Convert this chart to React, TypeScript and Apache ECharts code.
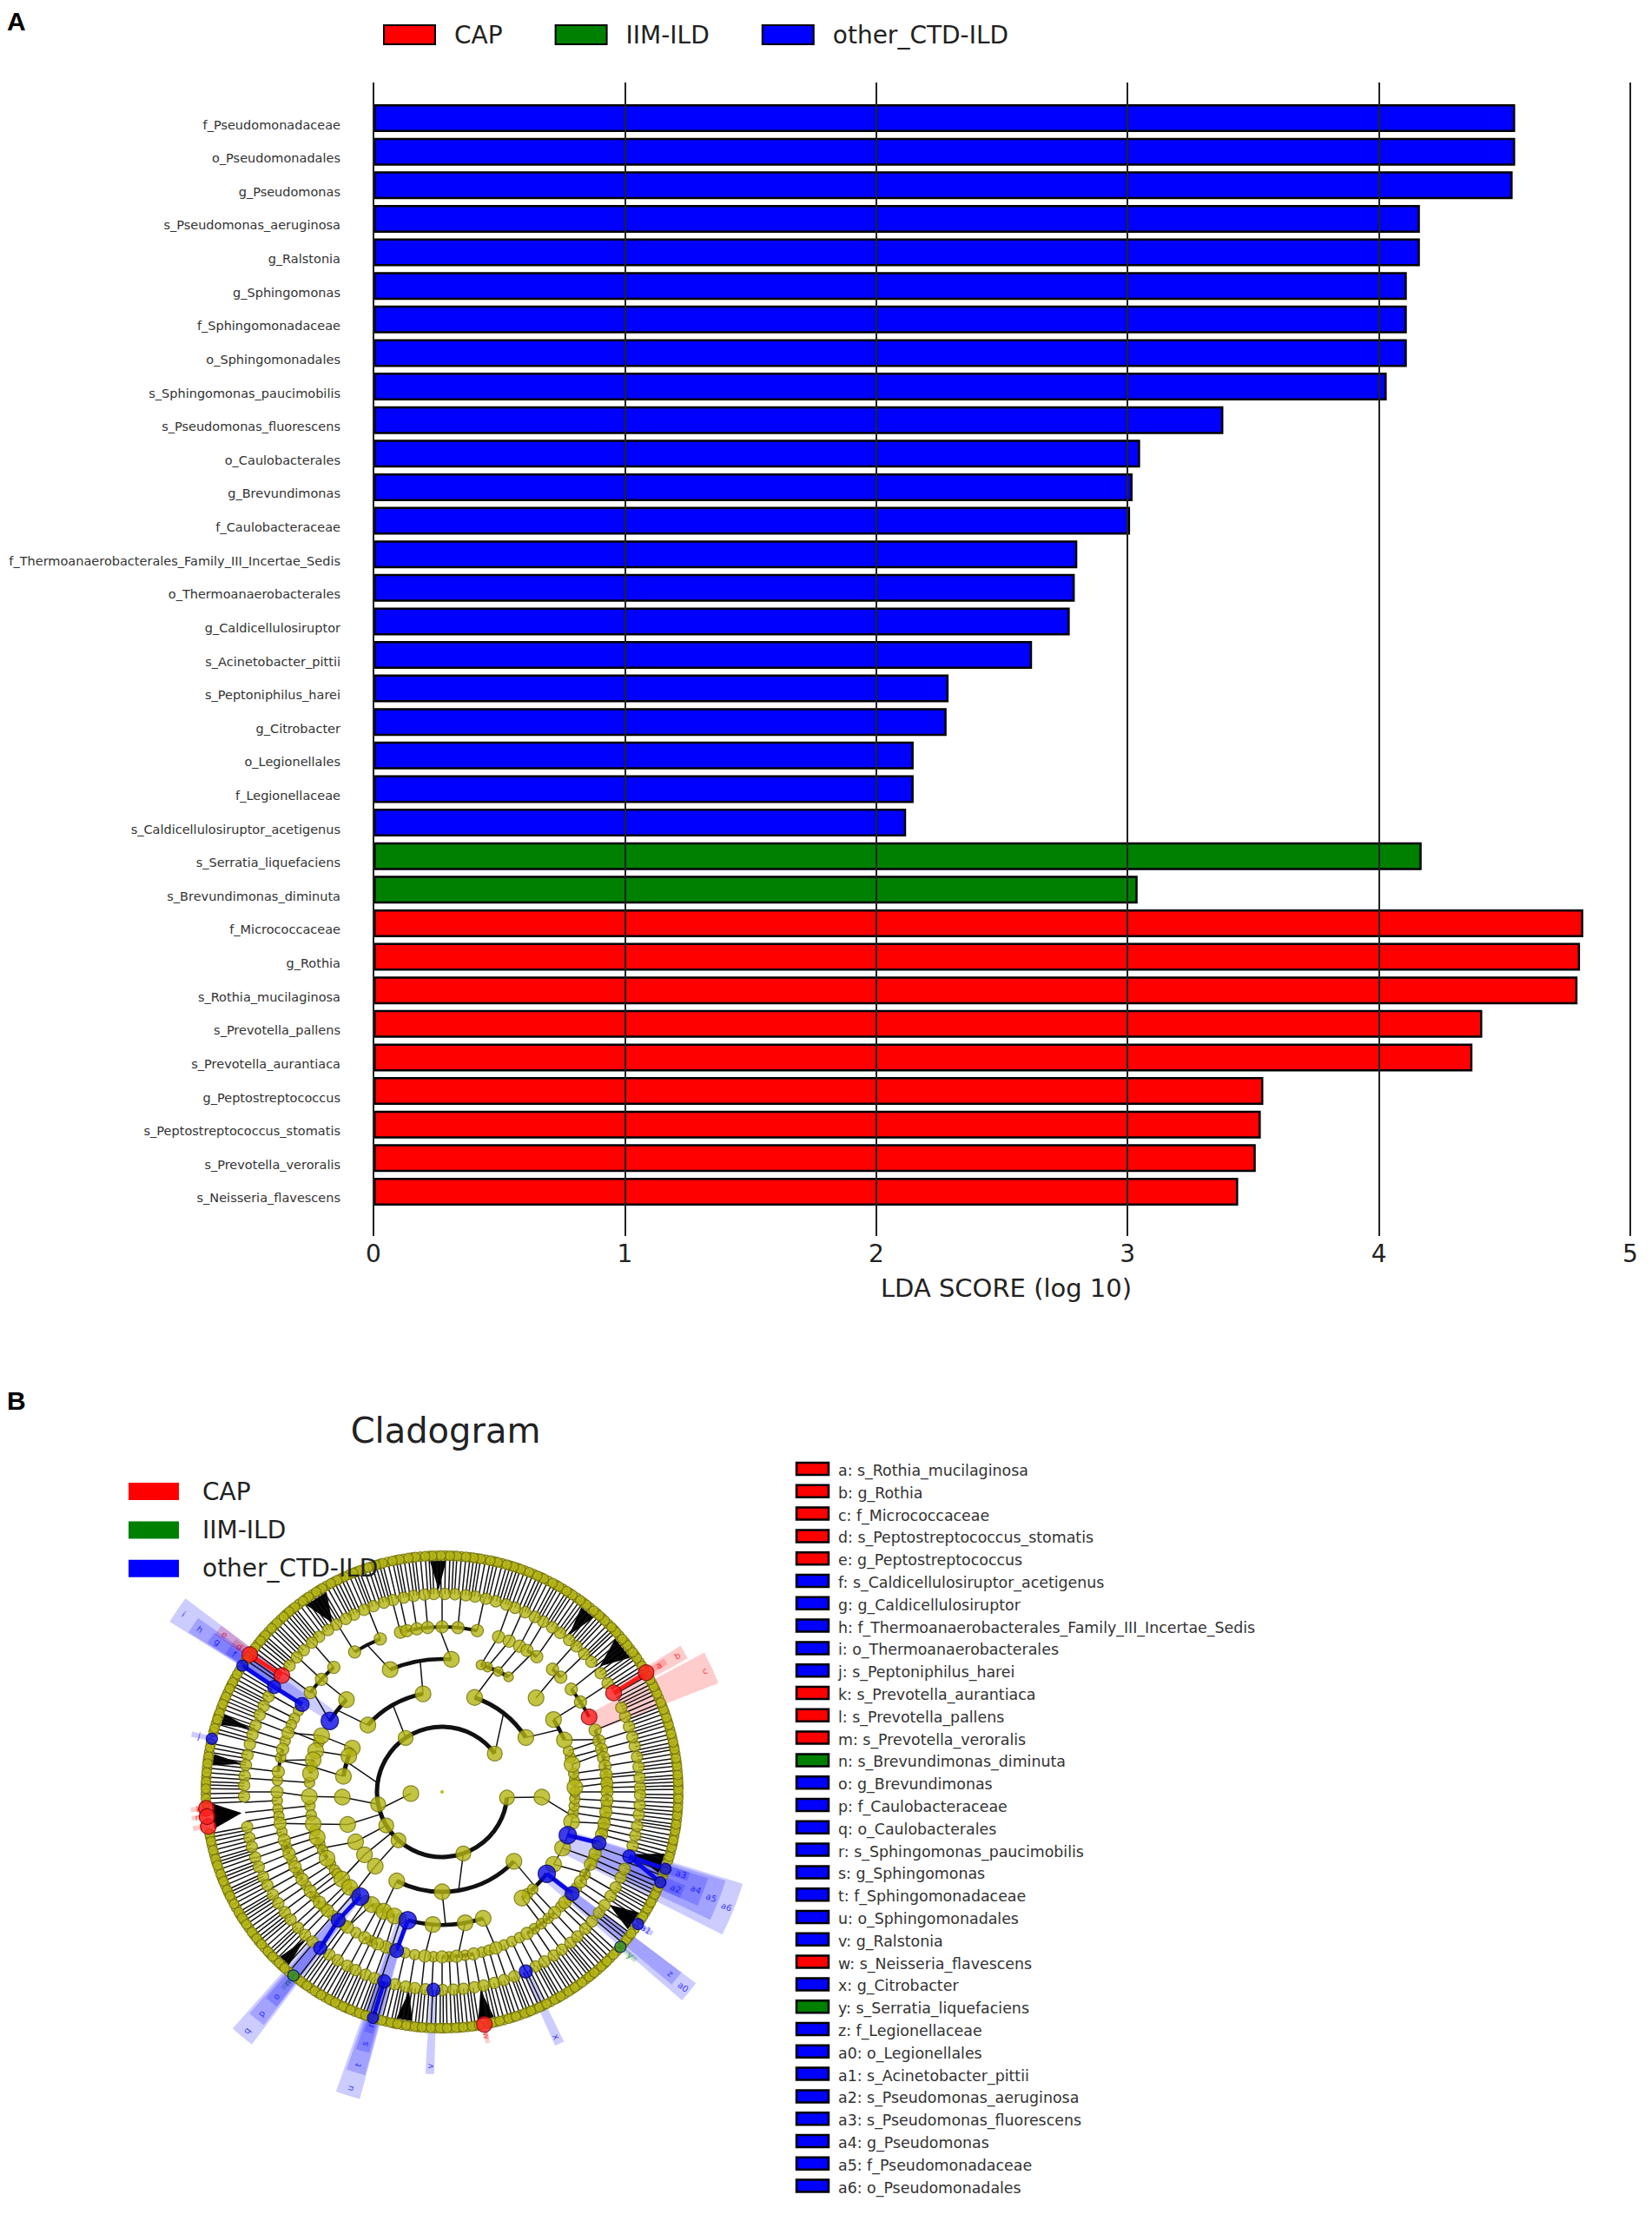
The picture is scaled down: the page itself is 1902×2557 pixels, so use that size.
import React, { useEffect, useRef } from "react";
import * as echarts from "echarts";

// ---------- LDA bar chart ----------
const taxa = [
  "f_Pseudomonadaceae","o_Pseudomonadales","g_Pseudomonas","s_Pseudomonas_aeruginosa","g_Ralstonia","g_Sphingomonas","f_Sphingomonadaceae","o_Sphingomonadales","s_Sphingomonas_paucimobilis","s_Pseudomonas_fluorescens","o_Caulobacterales","g_Brevundimonas","f_Caulobacteraceae","f_Thermoanaerobacterales_Family_III_Incertae_Sedis","o_Thermoanaerobacterales","g_Caldicellulosiruptor","s_Acinetobacter_pittii","s_Peptoniphilus_harei","g_Citrobacter","o_Legionellales","f_Legionellaceae","s_Caldicellulosiruptor_acetigenus","s_Serratia_liquefaciens","s_Brevundimonas_diminuta","f_Micrococcaceae","g_Rothia","s_Rothia_mucilaginosa","s_Prevotella_pallens","s_Prevotella_aurantiaca","g_Peptostreptococcus","s_Peptostreptococcus_stomatis","s_Prevotella_veroralis","s_Neisseria_flavescens",
];
const ldaScores = [4.542,4.542,4.532,4.163,4.163,4.111,4.111,4.111,4.031,3.381,3.05,3.02,3.01,2.8,2.79,2.77,2.62,2.288,2.28,2.149,2.149,2.119,4.17,3.04,4.813,4.8,4.79,4.411,4.372,3.54,3.53,3.51,3.44];
const taxonClass = [2,2,2,2,2,2,2,2,2,2,2,2,2,2,2,2,2,2,2,2,2,2,1,1,0,0,0,0,0,0,0,0,0];
const classNames = ["CAP", "IIM-ILD", "other_CTD-ILD"];
const scoreTicks = [0, 5];

// ---------- cladogram: node angles (degrees, counter-clockwise from east) per level ----------
const kingdomAngles = [183];
const phylumAngles = [36, 124, 191, 211, 228, 289, 355];
const classAngles = [33, 71, 101, 138, 154, 159, 171, 183, 199, 210, 219, 228, 243, 270, 316, 357];
const orderAngles = [2, 12, 23, 33, 45, 86, 113, 136, 155, 162, 166, 172, 182, 194, 200, 210, 221, 226, 238, 244, 249, 266, 280, 288, 307, 327, 335, 347];
const minorOrderAngles = [60, 65, 70, 73];
const chainOrderAngles = [186,190,197,203,206,213,216,218,224,229,235,241,246,252,351,354,357,0,5,8,15,18,158,169,176,310,313];
const familyAngles = [38.5,33,22,18,15,12,9,6,3,0,357,353,349,345,338,334,327,318,313,301,289,281,275,270,264,250,247,242,235,226,222,217,212,207,202,197,191,180,173,165,159,143,137,131,122,112,104.6,102.3,98.8,95,90,84.5,77.7,70,66,62,59,55,48,44];
const extraFamilyAngles = [150.5,153.5,156,162,168,176,183,186,188.5,194,199.5,204.5,209.5,214.5,219.5,224,228.5,233.5,238.5,244.5,252,257,260.5,267,272.5,278,284,286.5,292,295,298,304,307,310,316,320,324.5,330,336,340.5,347,351,355,1.5,5];
const genusAngles = [1.2,4.1,7.3,10.2,13.4,16.1,19.3,22.4,25.2,33.3,36.8,41.1,44.2,47.3,50.1,53.4,56.2,59.3,62.1,65.2,68.4,71.1,74.3,77.2,80.4,83.1,86.3,89.2,92.4,95.1,98.3,101.2,104.4,107.1,110.3,113.2,116.4,119.1,122.3,125.2,128.4,131.1,134.3,137.2,140.4,151.2,154.3,157.1,160.4,163.2,166.1,169.3,172.2,175.4,178.1,181.3,190.2,193.4,196.1,199.3,202.2,205.4,208.1,211.3,214.2,217.4,220.1,223.3,226.2,229.1,235.3,238.2,241.4,244.1,247.3,250.1,256.2,259.4,262.1,265.2,270.1,273.3,276.2,279.4,282.1,285.3,288.2,291.4,298.2,301.1,304.3,307.2,310.4,313.1,316.3,319.2,322.4,325.1,328.3,331.2,334.4,337.1,344.2,347.3,350.1,353.4,356.2,359.1];
const speciesAngles = [0.6,2.4,4.1,6.3,8.2,10.4,12.1,14.2,16.5,18.3,20.4,22.2,24.6,26.4,28.3,32.2,34.5,36.2,38.4,40.3,42.6,44.2,46.5,48.3,50.1,52.4,54.2,56.5,58.2,60.4,62.1,64.5,66.2,68.4,70.6,72.3,74.1,76.4,78.2,80.6,82.3,84.2,86.4,88.1,90.3,92.4,94.1,96.5,98.2,100.4,102.1,104.6,106.3,108.2,110.5,112.1,114.4,116.3,118.1,120.5,122.2,124.4,126.1,128.6,130.3,132.1,134.4,136.2,138.5,140.2,142.3,146.1,150.2,152.4,154.1,156.3,158.2,160.5,162.1,164.4,169.2,171.4,173.1,175.3,177.5,179.2,181.6,190.2,192.1,194.3,196.5,198.1,200.4,202.2,204.5,206.1,208.3,210.6,212.2,214.1,216.4,218.3,220.1,222.5,224.2,226.4,228.2,233.3,235.1,237.4,239.2,241.5,243.1,245.3,247.2,249.5,251.1,255.2,257.5,259.1,261.3,263.4,265.1,267.3,269.5,271.2,273.4,275.1,277.3,279,282.3,284.1,286.4,288.2,290.5,292.1,294.3,296.2,298.5,300.1,302.4,304.2,306.3,308.5,310.1,312.4,314.2,316.5,321.3,323.1,328.2,330.4,332.1,334.3,336.2,340.3,344.1,346.4,348.2,350.5,352.1,354.3,356.2,358.4];
const extraSpeciesAngles = [1.5,3.3,5.2,7.2,9.3,11.2,13.2,15.3,17.4,19.4,21.3,23.4,25.5,27.3,29.5,31.3,33.3,35.3,37.3,39.3,41.4,43.4,45.3,47.4,49.2,51.3,53.3,55.3,57.4,59.3,61.2,63.3,65.3,67.3,69.5,71.4,73.2,75.2,77.3,79.4,81.4,83.2,85.3,87.2,89.2,91.3,93.2,95.3,97.3,99.3,101.2,103.3,105.4,107.2,109.3,111.3,113.2,115.3,117.2,119.3,121.3,123.3,125.2,127.3,129.4,131.2,133.2,135.3,137.3,139.3,141.2,143.3,145.2,149.1,151.3,153.2,155.2,157.2,159.3,161.3,163.2,165.3,168.1,170.3,172.2,174.2,176.4,178.3,180.4,182.8,191.1,193.2,195.4,197.3,199.2,201.3,203.3,205.3,207.2,209.4,211.4,213.1,215.2,217.3,219.2,221.3,223.3,225.3,227.3,229.6,232.2,234.2,236.2,238.3,240.3,242.3,244.2,246.2,248.3,250.3,252.1,254.1,256.3,258.3,260.2,262.3,264.2,266.2,268.4,270.3,272.3,274.2,276.2,278.1,281.3,283.2,285.2,287.3,289.3,291.3,293.2,295.2,297.3,299.3,301.2,303.3,305.2,307.4,309.3,311.2,313.3,315.3,317.6,320.1,322.2,324.5,327.3,329.3,331.2,333.2,335.2,337.4,339.2,341.3,343.1,345.2,347.3,349.3,351.3,353.2,355.2,357.3,359.3];

// clade links: [parent angle, first child angle, last child angle]
const kingdomLinks = [[183, 36, 355]];
const phylumLinks = [[36,33,71],[124,101,138],[172,154,171],[191,183,183],[200,199,199],[211,210,210],[219,219,219],[228,228,228],[289,243,316],[355,357,357]];
const classLinks = [[33,23,33],[71,60,73],[101,86,113],[138,136,148],[154,155,155],[159,162,162],[171,166,172],[183,182,182],[199,194,194],[210,200,210],[219,221,221],[228,226,232],[243,238,249],[270,255,288],[316,307,322]];
const thinClassLinks = [[357,327,12]];
const orderLinks = [[23,15,22],[33,27,38.5],[45,44,48],[60,55,59],[65,62,62],[70,66,66],[73,70,70],[86,77.7,104.6],[113,112,122],[136,131,143],[155,159,159],[166,165,173],[182,180,180],[194,191,191],[200,197,202],[210,207,212],[221,217,222],[226,226,226],[238,235,235],[244,242,247],[249,250,250],[266,264,264],[280,270,281],[288,289,289],[307,301,313],[327,327,334],[335,334,338],[347,345,353],[2,357,9],[12,9,18]];
// dense fans between genus and species rings: [angle, half width]
const fans = [[123,3],[91,2],[38.5,3],[51,2],[186,3.2],[326,2.5],[342,2.5],[260.6,2],[281,2],[227,1.5],[172,1.4],[161.7,1.4]];

// biomarkers: letter, level, angle, class, shade start, shade end, shade outer radius
const markerLetters = ["a","b","c","d","e","f","g","h","i","j","k","l","m","n","o","p","q","r","s","t","u","v","w","x","y","z","a0","a1","a2","a3","a4","a5","a6"];
const markerLevels = [5,4,3,5,4,5,4,3,2,5,5,5,5,5,4,3,2,5,4,3,2,4,5,4,5,3,2,5,5,5,4,3,2];
const markerAngles = [30.3,30,27,144.5,144,147.7,148,148,147.7,167,184,188.4,186,231,232,231,232,253,253,254,255,267.5,280.3,295,319,322,322,326,337.5,341,341,342,341];
const markerClass = [0,0,0,0,0,2,2,2,2,2,0,0,0,1,2,2,2,2,2,2,2,2,0,2,1,2,2,2,2,2,2,2,2];
const shadeStart = [29.5,28.5,21.5,143.5,143,145.5,145,144.5,143,166.4,183.5,187.8,185.5,230.4,229.5,229,228.5,252,251.5,251,250.5,266.6,279.8,294,318.4,320,319,325.4,336,340,336,334.5,333];
const shadeEnd = [31,31.5,28,145.3,145.3,147.5,147.6,147.8,148,167.6,184.6,189,186.5,231.6,232.4,232.6,233,254,254.4,254.8,255,268.4,280.8,296,319.6,323,323,326.6,339,342,342,342.6,343];
const shadeOuter = [298,322,342,296,318,296,320,345,370,296,290,290,290,292,312,338,364,290,312,338,366,325,294,320,296,345,366,292,300,300,322,342,362];
const markerChains = [["b","a"],["e","d"],["h","g"],["g","f"],["q","p"],["p","o"],["u","t"],["s","r"],["a0","z"],["a6","a5"],["a4","a2"],["a4","a3"]];
const markerRootLinks = [[147.7,136,148],[255,254,254],[232,231.5,231.5],[322,322,322],[341,342,342]];

// side list of the cladogram
const listLetters = markerLetters;
const listTaxa = ["s_Rothia_mucilaginosa","g_Rothia","f_Micrococcaceae","s_Peptostreptococcus_stomatis","g_Peptostreptococcus","s_Caldicellulosiruptor_acetigenus","g_Caldicellulosiruptor","f_Thermoanaerobacterales_Family_III_Incertae_Sedis","o_Thermoanaerobacterales","s_Peptoniphilus_harei","s_Prevotella_aurantiaca","s_Prevotella_pallens","s_Prevotella_veroralis","s_Brevundimonas_diminuta","g_Brevundimonas","f_Caulobacteraceae","o_Caulobacterales","s_Sphingomonas_paucimobilis","g_Sphingomonas","f_Sphingomonadaceae","o_Sphingomonadales","g_Ralstonia","s_Neisseria_flavescens","g_Citrobacter","s_Serratia_liquefaciens","f_Legionellaceae","o_Legionellales","s_Acinetobacter_pittii","s_Pseudomonas_aeruginosa","s_Pseudomonas_fluorescens","g_Pseudomonas","f_Pseudomonadaceae","o_Pseudomonadales"];
const listClass = [0,0,0,0,0,2,2,2,2,2,0,0,0,1,2,2,2,2,2,2,2,2,0,2,1,2,2,2,2,2,2,2,2];

// ---------- styling ----------
const FONT = "DejaVu Sans";
const COLORS = ["#ff0000", "#008000", "#0000ff"];
const NODE_COLORS = ["#ff1a1a", "#2e8b1e", "#0a0ae6"];
const SHADE = ["rgba(255,0,0,0.2)", "rgba(0,128,0,0.2)", "rgba(0,0,255,0.2)"];
const LEVEL_R = [36, 75, 115, 153, 190, 228, 272];
const LEVEL_SIZE = [18, 17, 18, 18, 14, 13, 11];
const LEVEL_ARC = [5, 5, 4.5, 4, 2.5, 1.5];
const INK = "#111111";
const CENTER = [509, 2063];
const RAD = Math.PI / 180;

function linkRows(links: number[][], level: number, arcWidth: number) {
  return links.map(([p, s, e]) => [LEVEL_R[level], p, LEVEL_R[level + 1], s, e, arcWidth, -1]);
}

function buildOption() {
  const byClass = classNames.map((_, c) => ldaScores.map((v, i) => (taxonClass[i] === c ? v : null)));

  const barSeries = classNames.map((name, c) => ({
    name,
    type: "bar",
    stack: "lda",
    xAxisIndex: 0,
    yAxisIndex: 0,
    barWidth: 32,
    itemStyle: { color: COLORS[c], borderColor: "#000", borderWidth: 2.5 },
    data: byClass[c],
    silent: true,
  }));

  const shadeRows = markerLetters.map((_, i) => [LEVEL_R[markerLevels[i] + 1], markerAngles[i], shadeOuter[i], shadeStart[i], shadeEnd[i], markerClass[i]]);

  const chainRows = markerChains.map(([p, c]) => {
    const a = markerLetters.indexOf(p);
    const b = markerLetters.indexOf(c);
    return [LEVEL_R[markerLevels[a] + 1], markerAngles[a], LEVEL_R[markerLevels[b] + 1], markerAngles[b], markerAngles[b], 5, markerClass[a]];
  });

  const rows: number[][] = [
    ...speciesAngles.map((a) => [LEVEL_R[5], a, LEVEL_R[6], a, a, 1.2, -1]),
    ...extraSpeciesAngles.map((a) => [LEVEL_R[5], a, LEVEL_R[6], a, a, 1.2, -1]),
    ...familyAngles.map((a) => [LEVEL_R[4], a, LEVEL_R[5], a, a, 1.3, -1]),
    ...extraFamilyAngles.map((a) => [LEVEL_R[4], a, LEVEL_R[5], a, a, 1.3, -1]),
    ...chainOrderAngles.map((a) => [LEVEL_R[3], a, LEVEL_R[4], a, a, 1.3, -1]),
    ...linkRows(kingdomLinks, 0, LEVEL_ARC[0]),
    ...linkRows(phylumLinks, 1, LEVEL_ARC[1]),
    ...linkRows(classLinks, 2, LEVEL_ARC[2]),
    ...linkRows(thinClassLinks, 2, 1.4),
    ...linkRows(orderLinks, 3, LEVEL_ARC[3]),
    ...linkRows(markerRootLinks, 3, 0),
    ...chainRows,
  ];

  const nodeItem = (level: number, angle: number, size: number, fill: string, edge: string) => ({
    value: [level < 0 ? 0 : LEVEL_R[level], angle],
    symbolSize: size,
    itemStyle: { color: fill, borderColor: edge, borderWidth: 1.2 },
  });
  const YEL = "#b5b514";
  const EDGE = "#6e6e06";
  const nodes = [
    nodeItem(-1, 0, 3, YEL, YEL),
    ...extraSpeciesAngles.map((a) => nodeItem(6, a, LEVEL_SIZE[6], YEL, EDGE)),
    ...speciesAngles.map((a) => nodeItem(6, a, LEVEL_SIZE[6], YEL, EDGE)),
    ...genusAngles.map((a) => nodeItem(5, a, LEVEL_SIZE[5], YEL, EDGE)),
    ...extraFamilyAngles.map((a) => nodeItem(4, a, 12, YEL, EDGE)),
    ...familyAngles.map((a) => nodeItem(4, a, LEVEL_SIZE[4], YEL, EDGE)),
    ...minorOrderAngles.map((a) => nodeItem(3, a, 11, YEL, EDGE)),
    ...chainOrderAngles.map((a) => nodeItem(3, a, 12, YEL, EDGE)),
    ...orderAngles.map((a) => nodeItem(3, a, LEVEL_SIZE[3], YEL, EDGE)),
    ...classAngles.map((a) => nodeItem(2, a, LEVEL_SIZE[2], YEL, EDGE)),
    ...phylumAngles.map((a) => nodeItem(1, a, LEVEL_SIZE[1], YEL, EDGE)),
    ...kingdomAngles.map((a) => nodeItem(0, a, LEVEL_SIZE[0], YEL, EDGE)),
    ...markerLetters.map((_, i) => {
      const lv = markerLevels[i] + 1;
      const big = markerClass[i] === 0 ? 18 : LEVEL_SIZE[lv] + 2;
      return nodeItem(lv, markerAngles[i], big, NODE_COLORS[markerClass[i]], markerClass[i] === 0 ? "#7a0000" : "#00006a");
    }),
  ];

  const listGraphics: any[] = [];
  listTaxa.forEach((t, i) => {
    const y = 1691 + i * 25.8;
    listGraphics.push({
      type: "rect",
      shape: { x: 917, y: y - 7, width: 37, height: 14 },
      style: { fill: COLORS[listClass[i]], stroke: "#000", lineWidth: 2.5 },
      silent: true,
    });
    listGraphics.push({
      type: "text",
      x: 965,
      y: y + 2,
      style: { text: `${listLetters[i]}: ${t}`, fontFamily: FONT, fontSize: 17.4, fill: "#333", verticalAlign: "middle", align: "left" },
      silent: true,
    });
  });

  return {
    animation: false,
    backgroundColor: "#ffffff",
    textStyle: { fontFamily: FONT },
    title: {
      text: "Cladogram",
      left: 508,
      top: 1622,
      textAlign: "center",
      textStyle: { fontFamily: FONT, fontSize: 40, fontWeight: "normal", color: "#222" },
    },
    legend: [
      {
        data: classNames,
        left: 436,
        top: 21,
        orient: "horizontal",
        itemWidth: 59,
        itemHeight: 22,
        itemGap: 60,
        icon: "rect",
        selectedMode: false,
        textStyle: { fontFamily: FONT, fontSize: 28, color: "#222", padding: [0, 0, 0, 17] },
      },
      {
        data: classNames,
        left: 143,
        top: 1698,
        orient: "vertical",
        z: 10,
        itemWidth: 58,
        itemHeight: 20,
        itemGap: 16.4,
        icon: "rect",
        selectedMode: false,
        itemStyle: { borderWidth: 0 },
        textStyle: { fontFamily: FONT, fontSize: 28, color: "#222", padding: [0, 0, 0, 22] },
      },
    ],
    grid: [
      { left: 430, width: 1447, top: 116.7, height: 1274.6 },
      { left: 430, width: 1447, top: 95, height: 1328 },
    ],
    xAxis: [
      { type: "value", gridIndex: 0, min: scoreTicks[0], max: scoreTicks[1], show: false },
      {
        type: "value",
        gridIndex: 1,
        min: scoreTicks[0],
        max: scoreTicks[1],
        interval: 1,
        z: 5,
        axisLine: { show: false },
        axisTick: { show: false },
        splitLine: { show: true, lineStyle: { color: "#222", width: 2 } },
        axisLabel: { fontFamily: FONT, fontSize: 28, color: "#222", margin: 6 },
        name: "LDA SCORE (log 10)",
        nameLocation: "middle",
        nameGap: 45,
        nameTextStyle: { fontFamily: FONT, fontSize: 29, color: "#222", padding: [0, 0, 0, 10] },
      },
    ],
    yAxis: [
      {
        type: "category",
        gridIndex: 0,
        data: taxa,
        inverse: true,
        axisLine: { show: false },
        axisTick: { show: false },
        splitLine: { show: false },
        axisLabel: { interval: 0, fontFamily: FONT, fontSize: 14.5, color: "#333", margin: 38, verticalAlign: "top" },
      },
      { type: "value", gridIndex: 1, show: false, min: 0, max: 1 },
    ],
    polar: { center: CENTER, radius: 370 },
    radiusAxis: { min: 0, max: 370, show: false },
    angleAxis: { min: 0, max: 360, startAngle: 0, clockwise: false, show: false },
    graphic: {
      elements: [
        { type: "text", x: 8, y: 9, style: { text: "A", fontFamily: "Liberation Sans", fontWeight: "bold", fontSize: 30, fill: "#000" }, silent: true },
        { type: "text", x: 8, y: 1597, style: { text: "B", fontFamily: "Liberation Sans", fontWeight: "bold", fontSize: 30, fill: "#000" }, silent: true },
        ...listGraphics,
      ],
    },
    series: [
      ...barSeries,
      {
        name: "cladeShades",
        type: "custom",
        coordinateSystem: "polar",
        encode: { radius: 0, angle: 1 },
        silent: true,
        z: 1,
        data: shadeRows,
        renderItem(params: any, api: any) {
          const c = api.coord([0, 0]);
          const r0 = api.value(0);
          const r = api.value(2);
          const s = api.value(3);
          const e = api.value(4);
          const k = api.value(5);
          const mid = (s + e) / 2;
          const p = api.coord([r - 9, mid]);
          let rot = mid * RAD;
          if (mid > 90 && mid < 270) rot += Math.PI;
          return {
            type: "group",
            children: [
              {
                type: "sector",
                shape: { cx: c[0], cy: c[1], r0, r, startAngle: -e * RAD, endAngle: -s * RAD, clockwise: true },
                style: { fill: SHADE[k], stroke: "none" },
              },
              {
                type: "text",
                x: p[0],
                y: p[1],
                rotation: rot,
                style: {
                  text: markerLetters[params.dataIndex],
                  fontFamily: FONT,
                  fontSize: 10,
                  fill: COLORS[k],
                  opacity: 0.75,
                  align: "center",
                  verticalAlign: "middle",
                },
              },
            ],
          };
        },
      },
      {
        name: "cladeFans",
        type: "custom",
        coordinateSystem: "polar",
        encode: { radius: 0, angle: 1 },
        silent: true,
        z: 2,
        data: fans.map(([a, w]) => [232, a, w]),
        renderItem(_: any, api: any) {
          const a = api.value(1);
          const w = api.value(2);
          const tip = api.coord([232, a]);
          const b1 = api.coord([266, a - w]);
          const b2 = api.coord([266, a + w]);
          return { type: "polygon", shape: { points: [tip, b1, b2] }, style: { fill: "#000" } };
        },
      },
      {
        name: "cladeLinks",
        type: "custom",
        coordinateSystem: "polar",
        encode: { radius: 0, angle: 1 },
        silent: true,
        z: 3,
        data: rows,
        renderItem(_: any, api: any) {
          const c = api.coord([0, 0]);
          const r0 = api.value(0);
          const a0 = api.value(1);
          const r1 = api.value(2);
          const s = api.value(3);
          let e = api.value(4);
          const w = api.value(5);
          const k = api.value(6);
          if (e < s) e += 360;
          const mid = (s + e) / 2;
          const p0 = api.coord([r0, a0]);
          const p1 = api.coord([r1, mid]);
          const colored = k >= 0;
          const children: any[] = [
            {
              type: "line",
              shape: { x1: p0[0], y1: p0[1], x2: p1[0], y2: p1[1] },
              style: { stroke: colored ? NODE_COLORS[k] : "#111", lineWidth: colored ? w : 1.5 },
            },
          ];
          if (!colored && w > 0 && e > s) {
            children.push({
              type: "arc",
              shape: { cx: c[0], cy: c[1], r: r1, startAngle: -e * RAD, endAngle: -s * RAD, clockwise: true },
              style: { stroke: INK, lineWidth: w, fill: "none" },
            });
          }
          return { type: "group", children };
        },
      },
      {
        name: "cladeNodes",
        type: "scatter",
        coordinateSystem: "polar",
        silent: true,
        z: 4,
        data: nodes,
      },
    ],
  };
}

export default function App() {
  const ref = useRef<HTMLDivElement>(null);
  useEffect(() => {
    document.body.style.margin = "0";
    const chart = echarts.init(ref.current!, undefined, { renderer: "svg" });
    chart.setOption(buildOption() as any);
    return () => chart.dispose();
  }, []);
  return <div ref={ref} style={{ position: "absolute", left: 0, top: 0, width: 1902, height: 2557 }} />;
}
